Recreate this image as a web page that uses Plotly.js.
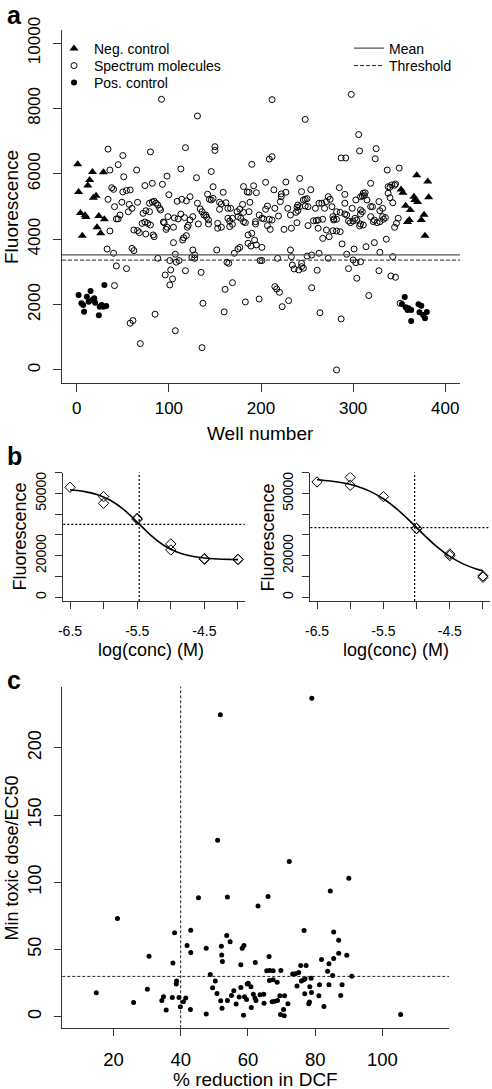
<!DOCTYPE html>
<html>
<head>
<meta charset="utf-8">
<script src="https://cdn.plot.ly/plotly-3.0.1.min.js"></script>
<style>html,body{margin:0;padding:0;background:#fff;}#chart{width:492px;height:1089px;}</style>
</head>
<body>
<div id="chart"></div>
<script>
// ---------------- Panel a data ----------------
const negWell = [1,17,29,14,12,2,21,18,4,9,10,24,30,22,26,6,
  369,381,352,354,366,382,367,370,357,362,377,374,361,359,378];
const negFluor = [6290,6055,6045,5810,5640,5440,5330,5270,4800,4735,4680,4710,4610,4364,4180,4108,
  5955,5765,5520,5420,5300,5285,5200,5140,5025,4895,4750,4590,4590,4525,4108];

const posWell = [2,7,8,11,15,13,17,19,20,24,25,27,29,32,30,5,
  356,353,357,360,363,359,371,374,372,376,380,378,363];
const posFluor = [2294,1988,1783,2242,2416,2089,2141,2192,2058,1672,1936,1988,1936,1957,2600,2040,
  2232,2018,1917,1887,1835,1835,2009,1966,1764,1682,1774,1580,1498];

const specWell = [
  92,131,34,50,80,118,150,150,45,36,65,113,51,98,130,146,74,82,93,38,40,50,54,58,100,148,159,181,185,
  212,298,248,306,307,325,324,287,292,209,212,190,337,350,242,192,205,227,319,345,340,338,285,187,195,214,222,227,244,254,273,291,311,312,
  34,49,41,57,66,56,60,47,43,45,72,75,79,79,82,84,86,88,90,91,109,114,119,123,99,94,95,71,74,77,80,62,66,68,75,83,84,97,98,106,110,113,117,105,121,120,116,119,115,36,105,33,40,60,62,88,107,101,108,111,
  43,54,41,58,61,69,85,96,101,102,104,107,118,128,128,126,135,137,136,152,160,161,165,169,183,186,
  142,144,146,148,222,263,266,131,134,136,138,140,141,123,126,132,143,143,153,153,157,155,157,162,164,167,155,164,166,169,166,169,174,177,180,175,178,181,183,188,187,181,194,194,198,201,203,205,207,209,212,207,210,215,219,221,229,232,233,225,239,240,242,238,240,239,246,248,250,248,251,259,257,260,262,251,262,267,267,186,190,193,189,195,201,177,175,232,125,171,163,199,201,218,250,255,263,
  198,233,236,241,244,246,244,234,261,255,215,217,220,223,230,264,273,287,282,288,293,295,300,303,308,301,304,314,323,329,317,328,336,341,346,343,351,
  338,342,346,340,343,313,310,308,303,315,328,275,271,269,277,282,291,299,308,308,310,319,321,329,332,332,291,293,286,282,278,279,279,271,278,282,286,295,297,300,302,304,307,308,311,319,322,323,326,329,333,335,345,347,349,274
];
const specFluor = [
  8280,7770,6755,6560,6670,6800,6830,6715,6280,6115,6115,6150,5910,5930,5880,6070,5640,5710,5680,5575,5525,5445,5490,5505,5360,5605,5435,5610,5445,
  8270,8430,7665,7200,6700,6770,6460,6485,6485,6450,6525,6290,6115,6175,5860,5635,5740,5750,5710,5650,5590,5405,5575,5435,5420,5510,5385,5435,5455,5515,5300,5370,5405,5330,
  5220,5130,4995,5065,5130,4840,4945,4740,4620,4620,4790,4870,4840,5100,5140,5160,5100,5045,4945,4895,5160,5220,5170,5300,4690,4525,4505,4485,4525,4485,4435,4280,4260,4200,4160,4130,4075,4300,4365,4650,4620,4770,4660,4365,4425,4365,4045,4110,3975,4250,3895,3700,3570,3720,3650,3415,3540,3345,3295,3345,
  3180,3100,2580,1430,1510,805,1705,2905,2600,3060,2785,1200,3035,3520,3415,3670,2985,2040,680,3670,1775,2465,3260,2670,2080,3875,
  5375,5220,5200,5250,5300,5100,5100,5100,4925,4840,4740,4740,4670,4590,4690,4465,4590,4465,4485,4335,4365,5130,5075,5115,4945,4945,4915,4640,4555,4640,4385,4455,4840,4915,5065,4690,4640,4535,4505,5130,4840,4820,4465,4535,4740,4640,4620,4915,5015,4610,4585,4415,4300,4945,4710,5150,4945,4740,4335,4300,4975,5045,4995,4820,4875,4505,5200,5220,5240,5015,4995,4945,4565,4565,4585,4415,4335,4610,4025,4130,4180,3975,3790,3825,3750,3750,3700,3670,3445,3570,3295,3345,3345,3415,3485,3515,3570,
  2170,3465,3090,3060,3160,3110,3260,3210,3050,2515,2550,2475,2375,1935,2120,1750,3415,1560,0,3855,3540,3100,3365,3280,3310,3700,2805,3770,3895,3600,2275,3035,4000,2875,2835,3465,2040,
  5605,5660,5690,5270,5115,5420,5320,5300,5200,5200,5150,5220,5150,4945,4995,4840,5100,4945,4895,4770,4840,4995,4995,4870,4945,4690,4770,4740,4820,4610,4690,4620,4585,4280,4260,4250,4230,4555,4505,4555,4640,4585,4405,4465,4435,4690,4535,4585,4505,4535,4610,4660,4365,4485,4640,4075
];
const meanFluor = 3520;
const thresholdFluor = 3360;
const aXRange = [-16, 416];
const aYRange = [-400, 10400];

// ---------------- Panel b data ----------------
const bLeftConc = [-6.5,-6,-6,-5.5,-5.5,-5,-5,-4.5,-4.5,-4,-4];
const bLeftFluor = [52970,48470,45260,38040,37560,25680,22790,18620,18300,18300,18150];
const bLeftFitConc = [-6.5,-6.3,-6.1,-5.9,-5.7,-5.5,-5.3,-5.1,-4.9,-4.7,-4.5,-4.3,-4.1,-4.0];
const bLeftFitFluor = [51780,51010,49500,46720,42230,36215,29950,24930,21680,19850,18900,18430,18210,18140];
const bLeftEC50 = -5.47;
const bLeftHalf = 35150;

const bRightConc = [-6.5,-6,-6,-5.5,-5,-5,-4.5,-4.5,-4,-4];
const bRightFluor = [55540,57780,53930,48470,33230,33000,20870,20060,10270,9630];
const bRightFitConc = [-6.5,-6.3,-6.1,-5.9,-5.7,-5.5,-5.3,-5.1,-4.9,-4.7,-4.5,-4.3,-4.1,-4.0];
const bRightFitFluor = [56614,56015,55033,53452,51011,47436,42592,36708,30398,24508,19667,16088,13645,12766];
const bRightEC50 = -5.03;
const bRightHalf = 33550;

const bTickVals = [0,10000,20000,30000,40000,50000,60000];
const bTickText = ['0','','20000','','','50000',''];
const bXTickVals = [-6.5,-6,-5.5,-5,-4.5,-4];
const bXTickText = ['-6.5','','-5.5','','-4.5',''];

// ---------------- Panel c data ----------------
const cReduction = [14.9,21.2,26.0,30.1,30.6,34.4,34.9,35.7,37.5,37.7,38.2,38.7,38.8,39.5,39.9,40.8,41.5,41.9,43.0,43.0,
  42.9,45.3,47.6,47.6,48.8,49.5,50.3,50.8,52.1,52.2,52.4,51.9,52.3,53.7,53.9,53.9,54.7,55.1,55.8,56.5,
  57.4,57.9,57.9,58.3,58.8,59.0,58.7,59.6,59.8,60.1,60.9,61.0,61.6,62.2,62.1,62.4,63.0,63.6,64.7,64.8,
  65.6,66.0,66.3,66.4,66.5,67.2,67.5,67.5,68.0,68.7,68.8,69.5,69.7,69.8,70.9,70.6,70.8,71.9,72.3,73.3,
  74.1,74.6,75.1,75.7,75.9,76.6,76.7,76.9,77.3,77.0,78.1,78.3,78.4,78.8,78.9,81.3,81.1,81.9,82.6,83.7,
  84.1,84.1,84.5,85.2,85.5,85.5,87.0,87.0,87.6,88.0,89.4,90.0,90.9,105.4,79.0,51.8,51.0];
const cRatio = [17.8,73,10.6,20.5,45,12.1,14.9,5,14.4,40,62.4,24.3,26.5,14.4,7.4,11.1,13.9,53,64.4,47.8,
  5.4,88.6,51,2,31.4,21.5,26.5,17.3,52.5,46,41,11.9,6.4,60.4,89.1,12.1,55.7,15.8,19.3,9.4,
  14.6,21.8,38.6,51,53,14.9,1.2,12.9,24.3,25,22.3,6.9,16.8,40.3,13.9,12.1,82.4,16.3,16.8,10.1,
  34.2,89.4,44.8,27,34.4,11.1,27.5,34.2,11.6,25.7,12.1,15.6,1.7,34.4,15.6,5.4,0.7,9.7,115.5,31.7,
  31.9,22.8,32.9,38.1,26.5,27.5,64.1,17.1,38.1,28.2,9.7,10.9,22.3,28.7,18.1,23.8,15.6,42.6,7.7,33.9,
  39.4,23.8,93.6,30.7,63.1,43.3,56.9,47.3,15.8,23.8,45.8,103,30.2,1.7,236.9,224.7,131.2];
const cCutX = 40;
const cCutY = 30;

// ---------------- helpers ----------------
const W = 492, H = 1089;
const fx = p => p / W;
const fy = p => 1 - p / H;
const FONT = 'Liberation Sans, Arial, Helvetica, sans-serif';
const AX = '#333';

function axisBase(extra) {
  return Object.assign({
    showline: true, linecolor: AX, linewidth: 1, mirror: false,
    showgrid: false, zeroline: false, ticks: 'outside', tickcolor: AX,
    tickwidth: 1, ticklen: 8, tickfont: {family: FONT, size: 17, color: '#000'},
    tickformat: 'd', fixedrange: true
  }, extra);
}

function legendAt(xPx, topPx) {
  return {x: fx(xPx), y: fy(topPx), xanchor: 'left', yanchor: 'top', bgcolor: 'rgba(0,0,0,0)', borderwidth: 0,
    font: {family: FONT, size: 14, color: '#000'}};
}

const traces = [
  {x: negWell, y: negFluor, xaxis: 'x', yaxis: 'y', type: 'scatter', mode: 'markers', name: 'Neg. control',
   legend: 'legend', marker: {symbol: 'triangle-up', size: 8, color: '#000'}},
  {x: specWell, y: specFluor, xaxis: 'x', yaxis: 'y', type: 'scatter', mode: 'markers', name: 'Spectrum molecules',
   legend: 'legend3', marker: {symbol: 'circle-open', size: 6, color: '#000', line: {width: 1, color: '#000'}}},
  {x: posWell, y: posFluor, xaxis: 'x', yaxis: 'y', type: 'scatter', mode: 'markers', name: 'Pos. control',
   legend: 'legend4', marker: {symbol: 'circle', size: 6, color: '#000'}},
  {x: aXRange, y: [meanFluor, meanFluor], xaxis: 'x', yaxis: 'y', type: 'scatter', mode: 'lines', name: 'Mean',
   legend: 'legend2', line: {color: '#555', width: 1.3}},
  {x: aXRange, y: [thresholdFluor, thresholdFluor], xaxis: 'x', yaxis: 'y', type: 'scatter', mode: 'lines', name: 'Threshold',
   legend: 'legend5', line: {color: '#222', width: 1, dash: '4px,2px'}},

  {x: bLeftFitConc, y: bLeftFitFluor, xaxis: 'x2', yaxis: 'y2', type: 'scatter', mode: 'lines', showlegend: false,
   line: {color: '#000', width: 1.6, shape: 'spline'}},
  {x: bLeftConc, y: bLeftFluor, xaxis: 'x2', yaxis: 'y2', type: 'scatter', mode: 'markers', showlegend: false,
   marker: {symbol: 'diamond-open', size: 8, color: '#000', line: {width: 1, color: '#000'}}},
  {x: bRightFitConc, y: bRightFitFluor, xaxis: 'x3', yaxis: 'y3', type: 'scatter', mode: 'lines', showlegend: false,
   line: {color: '#000', width: 1.6, shape: 'spline'}},
  {x: bRightConc, y: bRightFluor, xaxis: 'x3', yaxis: 'y3', type: 'scatter', mode: 'markers', showlegend: false,
   marker: {symbol: 'diamond-open', size: 8, color: '#000', line: {width: 1, color: '#000'}}},

  {x: cReduction, y: cRatio, xaxis: 'x4', yaxis: 'y4', type: 'scatter', mode: 'markers', showlegend: false,
   marker: {symbol: 'circle', size: 5, color: '#000'}}
];

const bYAxis = d => axisBase({domain: d, range: [-1800, 60100], tickvals: bTickVals, ticktext: bTickText,
  tickangle: -90, ticklen: 7, tickfont: {family: FONT, size: 14, color: '#000'}, ticklabelstandoff: 4});
const bXAxis = (d, anchor) => axisBase({domain: d, anchor: anchor, range: [-6.6, -3.9], tickvals: bXTickVals, ticktext: bXTickText,
  ticklen: 7, tickfont: {family: FONT, size: 14, color: '#000'}, ticklabelstandoff: 10});

const layout = {
  width: W, height: H,
  margin: {l: 0, r: 0, t: 0, b: 0},
  paper_bgcolor: '#fff', plot_bgcolor: '#fff',
  hovermode: false,
  showlegend: true,
  font: {family: FONT, color: '#000'},
  xaxis: axisBase({domain: [fx(62), fx(460)], anchor: 'y', range: aXRange, tick0: 0, dtick: 100, ticklabelstandoff: 2}),
  yaxis: axisBase({domain: [fy(383), fy(30)], anchor: 'x', range: aYRange, tick0: 0, dtick: 2000, tickangle: -90, ticklabelstandoff: 6}),
  xaxis2: bXAxis([fx(63.3), fx(244.7)], 'y2'),
  yaxis2: Object.assign(bYAxis([fy(601), fy(472.5)]), {anchor: 'x2'}),
  xaxis3: bXAxis([fx(310.4), fx(489.6)], 'y3'),
  yaxis3: Object.assign(bYAxis([fy(601), fy(472.5)]), {anchor: 'x3'}),
  xaxis4: axisBase({domain: [fx(62.3), fx(449)], anchor: 'y4', range: [4.8, 119.8], tick0: 0, dtick: 20, ticklen: 7, ticklabelstandoff: 7,
    tickfont: {family: FONT, size: 18.5, color: '#000'}}),
  yaxis4: axisBase({domain: [fy(1028.3), fy(686.7)], anchor: 'x4', range: [-8.6, 245.5], tick0: 0, dtick: 50, ticklen: 7, tickangle: -90, ticklabelstandoff: 6,
    tickfont: {family: FONT, size: 18, color: '#000'}}),
  legend: legendAt(54, 33),
  legend3: legendAt(54, 50),
  legend4: legendAt(54, 67),
  legend2: legendAt(349, 32.5),
  legend5: legendAt(349, 50),
  shapes: [
    {type: 'line', xref: 'x2', yref: 'y2 domain', x0: bLeftEC50, x1: bLeftEC50, y0: 0, y1: 1, line: {color: '#000', width: 1.2, dash: '2px,2px'}},
    {type: 'line', xref: 'x2 domain', yref: 'y2', x0: 0, x1: 1, y0: bLeftHalf, y1: bLeftHalf, line: {color: '#000', width: 1.2, dash: '2px,2px'}},
    {type: 'line', xref: 'x3', yref: 'y3 domain', x0: bRightEC50, x1: bRightEC50, y0: 0, y1: 1, line: {color: '#000', width: 1.2, dash: '2px,2px'}},
    {type: 'line', xref: 'x3 domain', yref: 'y3', x0: 0, x1: 1, y0: bRightHalf, y1: bRightHalf, line: {color: '#000', width: 1.2, dash: '2px,2px'}},
    {type: 'line', xref: 'x4', yref: 'y4 domain', x0: cCutX, x1: cCutX, y0: 0, y1: 1, line: {color: '#222', width: 1, dash: '3px,2px'}},
    {type: 'line', xref: 'x4 domain', yref: 'y4', x0: 0, x1: 1, y0: cCutY, y1: cCutY, line: {color: '#222', width: 1, dash: '3px,2px'}}
  ],
  annotations: [
    {text: '<b>a</b>', x: fx(14), y: 1, xref: 'paper', yref: 'paper', showarrow: false, xanchor: 'center', yanchor: 'top', borderpad: 0, font: {family: FONT, size: 25}},
    {text: '<b>b</b>', x: fx(14), y: fy(441), xref: 'paper', yref: 'paper', showarrow: false, xanchor: 'center', yanchor: 'top', borderpad: 0, font: {family: FONT, size: 25}},
    {text: '<b>c</b>', x: fx(14), y: fy(665), xref: 'paper', yref: 'paper', showarrow: false, xanchor: 'center', yanchor: 'top', borderpad: 0, font: {family: FONT, size: 25}},
    {text: 'Well number', x: fx(260.5), y: fy(433), xref: 'paper', yref: 'paper', showarrow: false, xanchor: 'center', yanchor: 'middle', font: {family: FONT, size: 19}},
    {text: 'Fluorescence', x: fx(11), y: fy(207), xref: 'paper', yref: 'paper', showarrow: false, textangle: -90, xanchor: 'center', yanchor: 'middle', font: {family: FONT, size: 19}},
    {text: 'Fluorescence', x: fx(19.5), y: fy(537), xref: 'paper', yref: 'paper', showarrow: false, textangle: -90, xanchor: 'center', yanchor: 'middle', font: {family: FONT, size: 18}},
    {text: 'Fluorescence', x: fx(267.5), y: fy(538), xref: 'paper', yref: 'paper', showarrow: false, textangle: -90, xanchor: 'center', yanchor: 'middle', font: {family: FONT, size: 18}},
    {text: 'log(conc) (M)', x: fx(150.8), y: fy(650), xref: 'paper', yref: 'paper', showarrow: false, xanchor: 'center', yanchor: 'middle', font: {family: FONT, size: 18}},
    {text: 'log(conc) (M)', x: fx(395.8), y: fy(650), xref: 'paper', yref: 'paper', showarrow: false, xanchor: 'center', yanchor: 'middle', font: {family: FONT, size: 18}},
    {text: 'Min toxic dose/EC50', x: fx(11.5), y: fy(858), xref: 'paper', yref: 'paper', showarrow: false, textangle: -90, xanchor: 'center', yanchor: 'middle', font: {family: FONT, size: 18}},
    {text: '% reduction in DCF', x: fx(255.7), y: fy(1079), xref: 'paper', yref: 'paper', showarrow: false, xanchor: 'center', yanchor: 'middle', font: {family: FONT, size: 19}}
  ]
};

Plotly.newPlot('chart', traces, layout, {displayModeBar: false, staticPlot: true});
</script>
</body>
</html>
